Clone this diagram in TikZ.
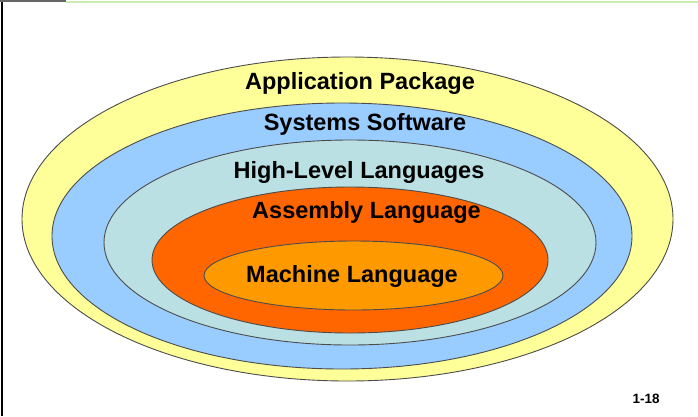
\documentclass[tikz,border=0pt]{standalone}
\usepackage{fontspec}
\setmainfont{Liberation Sans}
\usetikzlibrary{shapes.geometric}
\definecolor{appyellow}{RGB}{255,255,153}
\definecolor{sysblue}{RGB}{153,204,255}
\definecolor{highcyan}{RGB}{187,224,227}
\definecolor{asmorange}{RGB}{255,102,0}
\definecolor{machorange}{RGB}{255,153,0}
\definecolor{slidegreen}{RGB}{204,236,180}
\tikzset{
  layer/.style={
    ellipse, draw=black!70, line width=0.9pt, inner sep=0pt
  },
  layertext/.style={
    anchor=base, inner sep=0pt, font=\fontsize{23.5}{28}\selectfont\bfseries
  },
  pagenum/.style={
    anchor=base, inner sep=0pt, font=\fontsize{13.5}{16}\selectfont\bfseries
  }
}

\begin{document}
\begin{tikzpicture}[x=1pt, y=-1pt]
\useasboundingbox (0,0) rectangle (698,416);

% slide edges
\draw[black, line width=2pt] (1.5,0) -- (1.5,416);
\draw[black!60, line width=1.5pt] (0,1) -- (66,1);
\draw[slidegreen, line width=2pt] (66,1.5) -- (698,1.5);

% nested layers, outside in
\node[layer, fill=appyellow, minimum width=651pt, minimum height=324pt] (app) at (347.5,219) {};
\node[layer, fill=sysblue, minimum width=580pt, minimum height=266pt] (sys) at (342,236) {};
\node[layer, fill=highcyan, minimum width=492pt, minimum height=205pt] (high) at (350,242.5) {};
\node[layer, fill=asmorange, minimum width=396pt, minimum height=146pt] (asm) at (350,260) {};
\node[layer, fill=machorange, minimum width=299pt, minimum height=69pt] (mach) at (353.5,275.5) {};

% labels
\node[layertext] (applabel) at (360,89) {Application Package};
\node[layertext] (syslabel) at (365,130) {Systems Software};
\node[layertext] (highlabel) at (359,178) {High-Level Languages};
\node[layertext] (asmlabel) at (366.5,218) {Assembly Language};
\node[layertext] (machlabel) at (352,282.5) {Machine Language};

\node[pagenum] (page) at (646,403) {1-18};

\end{tikzpicture}
\end{document}
